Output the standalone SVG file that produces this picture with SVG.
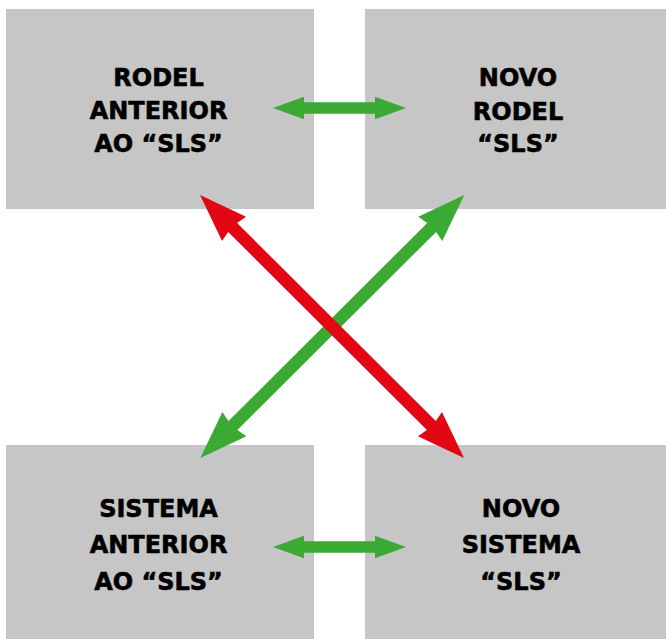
<svg xmlns="http://www.w3.org/2000/svg" width="666" height="639" viewBox="0 0 666 639">
<style>
.box{fill:#c6c6c6}
.lbl{font-family:"DejaVu Sans","Liberation Sans",sans-serif;font-weight:bold;font-size:24px;fill:#000;stroke:#000;stroke-width:0.6;text-anchor:middle}
.g{fill:#3aaa35}
.r{fill:#e30613}
</style>
<defs>
<polygon id="diag" points="-186.3,0 -138.3,-17 -140.3,-6.3 140.3,-6.3 138.3,-17 186.3,0 138.3,17 140.3,6.3 -140.3,6.3 -138.3,17"/>
<polygon id="horiz" points="-66.5,0 -35.5,-11.2 -35.5,-5.8 35.5,-5.8 35.5,-11.2 66.5,0 35.5,11.2 35.5,5.8 -35.5,5.8 -35.5,11.2"/>
</defs>
<rect width="666" height="639" fill="#fff"/>
<g id="node-rodel-anterior">
<rect class="box" x="6" y="9" width="308" height="200"/>
<text class="lbl"><tspan x="158.5" y="85.5">RODEL</tspan><tspan x="158.5" y="119">ANTERIOR</tspan><tspan x="158.5" y="152">AO “SLS”</tspan></text>
</g>
<g id="node-novo-rodel">
<rect class="box" x="365" y="9" width="301" height="200"/>
<text class="lbl"><tspan x="518" y="86">NOVO</tspan><tspan x="518" y="119.5">RODEL</tspan><tspan x="518" y="152">“SLS”</tspan></text>
</g>
<g id="node-sistema-anterior">
<rect class="box" x="6" y="445" width="308" height="194"/>
<text class="lbl"><tspan x="158.5" y="516.5">SISTEMA</tspan><tspan x="158.5" y="553">ANTERIOR</tspan><tspan x="158.5" y="590">AO “SLS”</tspan></text>
</g>
<g id="node-novo-sistema">
<rect class="box" x="365" y="445" width="301" height="194"/>
<text class="lbl"><tspan x="521" y="516.5">NOVO</tspan><tspan x="521" y="553">SISTEMA</tspan><tspan x="521" y="590">“SLS”</tspan></text>
</g>
<g id="connectors">
<use href="#horiz" class="g" transform="translate(339.5,108)"/>
<use href="#horiz" class="g" transform="translate(339.5,547)"/>
<use href="#diag" class="g" transform="translate(332.3,326.5) rotate(-44.9)"/>
<use href="#diag" class="r" transform="translate(332,326.5) rotate(44.9)"/>
</g>
</svg>
